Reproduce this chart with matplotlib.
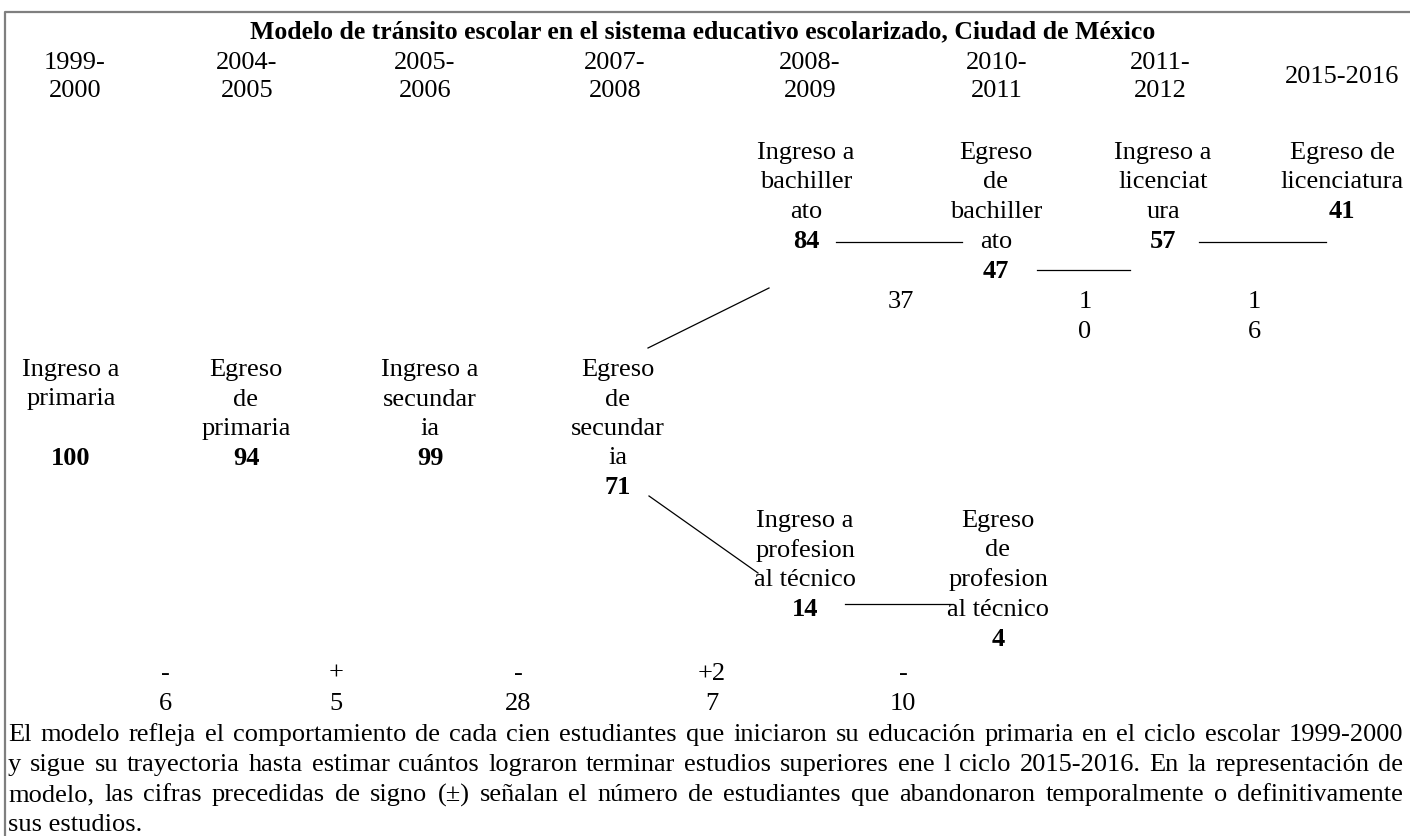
import matplotlib
matplotlib.use("Agg")
import matplotlib.pyplot as plt

# ── Data ─────────────────────────────────────────────────────────────────────
title = "Modelo de tránsito escolar en el sistema educativo escolarizado, Ciudad de México"

cycles = ["1999-\n2000", "2004-\n2005", "2005-\n2006", "2007-\n2008",
          "2008-\n2009", "2010-\n2011", "2011-\n2012"]
last_cycle = "2015-2016"

# higher education branch (bachillerato / licenciatura)
upper_labels = ["Ingreso a\nbachiller\nato", "Egreso\nde\nbachiller\nato",
                "Ingreso a\nlicenciat\nura", "Egreso de\nlicenciatura"]
upper_values = [84, 47, 57, 41]
upper_changes = ["37", "1\n0", "1\n6"]

# basic education (primaria / secundaria)
basic_labels = ["Ingreso a\nprimaria\n", "Egreso\nde\nprimaria",
                "Ingreso a\nsecundar\nia", "Egreso\nde\nsecundar\nia"]
basic_values = [100, 94, 99, 71]

# technical branch
tech_labels = ["Ingreso a\nprofesion\nal técnico", "Egreso\nde\nprofesion\nal técnico"]
tech_values = [14, 4]

basic_changes = ["-\n6", "+\n5", "-\n28", "+2\n7", "-\n10"]

note = [
    "El modelo refleja el comportamiento de cada cien estudiantes que iniciaron su educación primaria en el ciclo escolar 1999-2000",
    "y sigue su trayectoria hasta estimar cuántos lograron terminar estudios superiores ene l ciclo 2015-2016. En la representación de",
    "modelo, las cifras precedidas de signo (±) señalan el número de estudiantes que abandonaron temporalmente o definitivamente",
    "sus estudios.",
]

# ── Layout (pixel positions) ────────────────────────────────────────────────
W, H = 1410, 836
FS = 19
ROW = 29.5
cycle_x = [75, 247, 425, 615, 810, 997, 1160]
upper_x = [806, 996, 1163, 1342]
basic_x = [71, 246, 430, 618]
tech_x = [805, 998]
upper_change_x = [901, 1085, 1254]
basic_change_x = [165, 336, 518, 712, 903]

plt.rcParams["font.family"] = ["Liberation Serif", "DejaVu Serif"]

fig = plt.figure(figsize=(W / 100, H / 100), dpi=100)
ax = fig.add_axes([0, 0, 1, 1])
ax.set_xlim(0, W)
ax.set_ylim(H, 0)
ax.axis("off")

# frame (left and top edge visible)
ax.plot([5, 5, W], [H, 12, 12], color="#7f7f7f", lw=1.6, solid_capstyle="butt")

ax.text(703, 32, title, ha="center", va="center", fontsize=18.5, fontweight="bold")

for x, c in zip(cycle_x, cycles):
    for i, part in enumerate(c.split("\n")):
        ax.text(x, 63 + i * 28, part, ha="center", va="center", fontsize=FS)
ax.text(1342, 77, last_cycle, ha="center", va="center", fontsize=FS)


def node(x, y0, label, value):
    lines = label.split("\n")
    for i, part in enumerate(lines):
        ax.text(x, y0 + i * ROW, part, ha="center", va="center", fontsize=FS)
    ax.text(x, y0 + len(lines) * ROW, str(value), ha="center", va="center",
            fontsize=FS, fontweight="bold")


for x, lab, v in zip(upper_x, upper_labels, upper_values):
    node(x, 153, lab, v)
for x, lab, v in zip(basic_x, basic_labels, basic_values):
    node(x, 370, lab, v)
for x, lab, v in zip(tech_x, tech_labels, tech_values):
    node(x, 521, lab, v)

for x, ch in zip(upper_change_x, upper_changes):
    for i, part in enumerate(ch.split("\n")):
        ax.text(x, 302 + i * ROW, part, ha="center", va="center", fontsize=FS)
for x, ch in zip(basic_change_x, basic_changes):
    for i, part in enumerate(ch.split("\n")):
        ax.text(x, 674 + i * 30, part, ha="center", va="center", fontsize=FS)

# connectors
connectors = [
    ((836, 962), (242, 242)),
    ((1037, 1130), (270, 270)),
    ((1199, 1326), (242, 242)),
    ((769, 648), (288, 348)),
    ((649, 758), (496, 573)),
    ((845, 953), (604, 604)),
]
for xs, ys in connectors:
    ax.plot(xs, ys, color="black", lw=0.9)

# justified note
renderer = fig.canvas.get_renderer()
left, right = 8, 1403
for k, line in enumerate(note):
    y = 735 + k * 30
    if k == len(note) - 1:
        ax.text(left, y, line, ha="left", va="center", fontsize=FS)
        continue
    words = line.split(" ")
    texts = [ax.text(0, y, w, ha="left", va="center", fontsize=FS) for w in words]
    widths = [t.get_window_extent(renderer).width for t in texts]
    gap = (right - left - sum(widths)) / (len(words) - 1)
    x = left
    for t, w in zip(texts, widths):
        t.set_x(x)
        x += w + gap

fig.savefig("out.png", dpi=100)
